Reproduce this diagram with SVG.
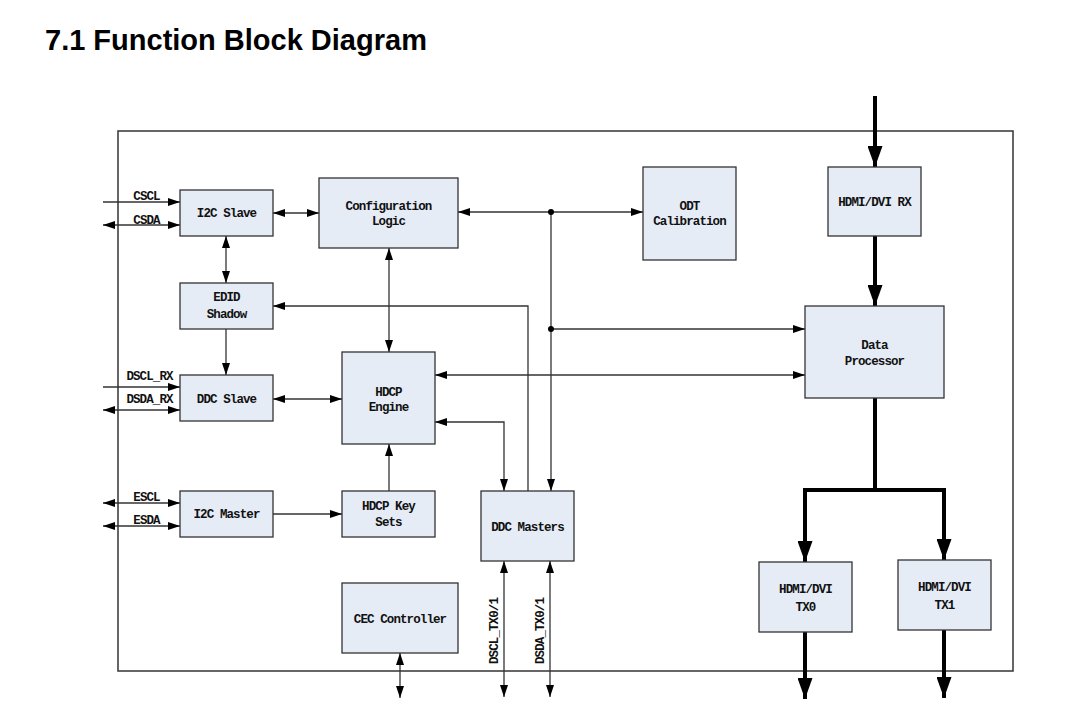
<svg xmlns="http://www.w3.org/2000/svg" width="1066" height="707" viewBox="0 0 1066 707">
<defs>
<marker id="a" markerUnits="userSpaceOnUse" markerWidth="12" markerHeight="8" refX="12" refY="4" orient="auto-start-reverse" viewBox="0 0 12 8"><path d="M0,0 L12,4 L0,8 z" fill="#000"/></marker>
<marker id="A" markerUnits="userSpaceOnUse" markerWidth="21" markerHeight="15" refX="21" refY="7.5" orient="auto-start-reverse" viewBox="0 0 21 15"><path d="M0,0 L21,7.5 L0,15 z" fill="#000"/></marker>
</defs>
<style>
.box{fill:#E6ECF6;stroke:#333;stroke-width:1.3}
.t{font-family:"Liberation Mono",monospace;font-weight:bold;font-size:12.5px;letter-spacing:-0.9px;fill:#111;text-anchor:middle}
.l{fill:none;stroke:#333;stroke-width:1.3}
.e{marker-end:url(#a)}
.b{marker-start:url(#a);marker-end:url(#a)}
.k{fill:none;stroke:#000;stroke-width:4}
</style>
<rect width="1066" height="707" fill="#fff"/>
<text x="45" y="49.5" font-family="Liberation Sans, Arial, sans-serif" font-weight="bold" font-size="29" fill="#000">7.1 Function Block Diagram</text>
<rect id="frame" x="118" y="131" width="895" height="540" fill="#fff" stroke="#404040" stroke-width="1.6"/>

<g id="connectors">
<path class="l e" d="M103,202 H180"/>
<path class="l b" d="M103,225 H180"/>
<path class="l b" d="M273,213 H319"/>
<path class="l b" d="M226,236 V283"/>
<path class="l b" d="M389,248 V352"/>
<path class="l b" d="M458,212 H643"/>
<path class="l e" d="M551,212 V491"/>
<path class="l e" d="M551,329 H805"/>
<path class="l e" d="M528,491 V306 H273"/>
<path class="l b" d="M435,375 H805"/>
<path class="l b" d="M435,422 H504 V491"/>
<path class="l b" d="M273,399 H342"/>
<path class="l e" d="M226,329 V375"/>
<path class="l e" d="M103,387 H180"/>
<path class="l b" d="M103,410 H180"/>
<path class="l b" d="M103,503 H180"/>
<path class="l b" d="M103,526 H180"/>
<path class="l e" d="M273,514 H342"/>
<path class="l e" d="M389,491 V444"/>
<path class="l b" d="M504,561 V697"/>
<path class="l b" d="M550,561 V697"/>
<path class="l b" d="M400,653 V698"/>
<circle cx="551" cy="212" r="3" fill="#000"/>
<circle cx="551" cy="329" r="3" fill="#000"/>
<path class="k" d="M875,96 V167" marker-end="url(#A)"/>
<path class="k" d="M875,236 V306" marker-end="url(#A)"/>
<path class="k" d="M875,398 V490"/>
<path class="k" d="M805,562 V490 H944 V560" marker-start="url(#A)" marker-end="url(#A)"/>
<path class="k" d="M805,632 V699" marker-end="url(#A)"/>
<path class="k" d="M944,630 V698" marker-end="url(#A)"/>
<text class="t" x="146.5" y="200">CSCL</text>
<text class="t" x="146.5" y="224">CSDA</text>
<text class="t" x="149.5" y="379.5">DSCL_RX</text>
<text class="t" x="149.5" y="403">DSDA_RX</text>
<text class="t" x="146.5" y="500.5">ESCL</text>
<text class="t" x="146.5" y="524">ESDA</text>
<text class="t" transform="translate(497.5,631) rotate(-90)">DSCL_TX0/1</text>
<text class="t" transform="translate(543.5,631) rotate(-90)">DSDA_TX0/1</text>
</g>

<g id="i2c-slave"><rect class="box" x="180" y="190" width="93" height="46"/><text class="t" x="226.5" y="217">I2C Slave</text></g>
<g id="config-logic"><rect class="box" x="319" y="178" width="139" height="70"/><text class="t" x="388.5" y="210">Configuration</text><text class="t" x="388.5" y="225">Logic</text></g>
<g id="edid-shadow"><rect class="box" x="180" y="283" width="93" height="46"/><text class="t" x="226.5" y="301">EDID</text><text class="t" x="226.5" y="318">Shadow</text></g>
<g id="ddc-slave"><rect class="box" x="180" y="375" width="93" height="46"/><text class="t" x="226.5" y="403">DDC Slave</text></g>
<g id="hdcp-engine"><rect class="box" x="342" y="352" width="93" height="92"/><text class="t" x="388.5" y="395.5">HDCP</text><text class="t" x="388.5" y="410.5">Engine</text></g>
<g id="i2c-master"><rect class="box" x="180" y="491" width="93" height="46"/><text class="t" x="226.5" y="518">I2C Master</text></g>
<g id="hdcp-key-sets"><rect class="box" x="342" y="491" width="93" height="46"/><text class="t" x="388.5" y="510">HDCP Key</text><text class="t" x="388.5" y="526">Sets</text></g>
<g id="ddc-masters"><rect class="box" x="481" y="491" width="93" height="70"/><text class="t" x="527.5" y="530.5">DDC Masters</text></g>
<g id="cec-controller"><rect class="box" x="342" y="583" width="116" height="70"/><text class="t" x="400" y="623">CEC Controller</text></g>
<g id="odt-calibration"><rect class="box" x="643" y="167" width="93" height="93"/><text class="t" x="689.5" y="209.5">ODT</text><text class="t" x="689.5" y="225">Calibration</text></g>
<g id="hdmi-rx"><rect class="box" x="828" y="167" width="93" height="69"/><text class="t" x="874.5" y="206">HDMI/DVI RX</text></g>
<g id="data-processor"><rect class="box" x="805" y="306" width="139" height="92"/><text class="t" x="874.5" y="349">Data</text><text class="t" x="874.5" y="364.5">Processor</text></g>
<g id="hdmi-tx0"><rect class="box" x="759" y="562" width="93" height="70"/><text class="t" x="805.5" y="593">HDMI/DVI</text><text class="t" x="805.5" y="610.5">TX0</text></g>
<g id="hdmi-tx1"><rect class="box" x="898" y="560" width="93" height="70"/><text class="t" x="944.5" y="591">HDMI/DVI</text><text class="t" x="944.5" y="609">TX1</text></g>
</svg>
